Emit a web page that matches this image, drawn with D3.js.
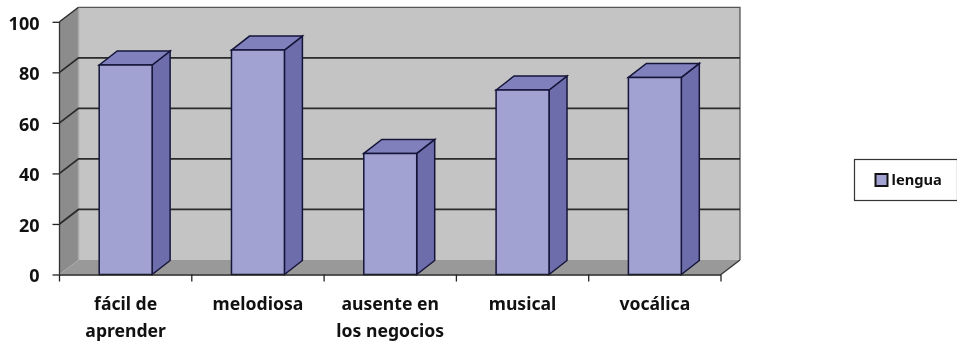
<!DOCTYPE html>
<html><head><meta charset="utf-8">
<script src="https://cdn.jsdelivr.net/npm/d3@7"></script>
<style>html,body{margin:0;padding:0;background:#fff}svg{display:block;filter:blur(.4px)}text{font-family:"Noto Sans",sans-serif;font-weight:700;fill:#111}</style>
</head><body><svg id="c" width="957" height="341"></svg>
<script>
const categories=[["fácil de","aprender"],["melodiosa"],["ausente en","los negocios"],["musical"],["vocálica"]];
const values=[82.9,88.8,47.9,73,78];
const yTicks=[0,20,40,60,80,100];
const legendLabel="lengua";
const svg=d3.select("#c");
const dx=19,dy=-14.5;
const x=d3.scaleBand().domain(d3.range(categories.length)).range([59.5,721]).paddingInner(0.6).paddingOuter(0.3);
const y=d3.scaleLinear().domain([0,100]).range([274.5,21.8]);
const poly=(pts,fill,stroke,sw)=>svg.append("polygon").attr("points",pts.map(p=>p.join(",")).join(" ")).attr("fill",fill).attr("stroke",stroke||"none").attr("stroke-width",sw||0);
const x0=x.range()[0],x1=x.range()[1],y0=y(0),yT=y(100);
// walls
poly([[x0+dx,yT+dy],[x1+dx,yT+dy],[x1+dx,y0+dy],[x0+dx,y0+dy]],"#c4c4c4");
poly([[x0,yT],[x0+dx,yT+dy],[x0+dx,y0+dy],[x0,y0]],"#8c8c8c");
poly([[x0,y0],[x0+dx,y0+dy],[x1+dx,y0+dy],[x1,y0]],"#999999");
svg.append("path").attr("d",`M${x0+dx},${yT+dy}H${x1+dx}V${y0+dy}`).attr("fill","none").attr("stroke","#555").attr("stroke-width",1.3);
svg.append("line").attr("x1",x0+dx).attr("x2",x0+dx).attr("y1",yT+dy).attr("y2",y0+dy).attr("stroke","#aaa").attr("stroke-width",1.5);
// gridlines
yTicks.filter(t=>t>0&&t<100).forEach(t=>{
  const Y=y(t);
  svg.append("path").attr("d",`M${x0},${Y}L${x0+dx},${Y+dy}H${x1+dx}`).attr("fill","none").attr("stroke","#2a2a2a").attr("stroke-width",1.7);
});
svg.append("line").attr("x1",x0).attr("y1",yT).attr("x2",x0+dx).attr("y2",yT+dy).attr("stroke","#2a2a2a").attr("stroke-width",1.4);
svg.append("line").attr("x1",x1).attr("y1",y0).attr("x2",x1+dx).attr("y2",y0+dy).attr("stroke","#333").attr("stroke-width",1.3);
svg.append("line").attr("x1",x0).attr("y1",yT).attr("x2",x0).attr("y2",y0).attr("stroke","#333").attr("stroke-width",1.3);
// bars
values.forEach((v,i)=>{
  const l=x(i),r=l+x.bandwidth(),t=y(v),b=y(0),ddx=18,ddy=-14;
  poly([[r,t],[r+ddx,t+ddy],[r+ddx,b+ddy],[r,b]],"#6d6dab","#15153a",1.5);
  poly([[l,t],[l+ddx,t+ddy],[r+ddx,t+ddy],[r,t]],"#8080bd","#15153a",1.5);
  poly([[l,t],[r,t],[r,b],[l,b]],"#a2a2d2","#15153a",1.5);
});
// axes
const yAxis=d3.axisLeft(y).tickValues(yTicks).tickSize(7).tickPadding(13);
const gy=svg.append("g").attr("transform",`translate(${x0},0)`).call(yAxis);
gy.select(".domain").remove();
gy.selectAll("line").attr("stroke","#222").attr("stroke-width",1.3);
gy.selectAll("text").style("font-size","18px").attr("transform","translate(0,1.5)").attr("fill","#111");
const xs=d3.range(categories.length+1).map(i=>x0+i*x.step());
svg.append("line").attr("x1",x0).attr("x2",x1).attr("y1",y0+.5).attr("y2",y0+.5).attr("stroke","#222").attr("stroke-width",1.5);
xs.forEach(X=>svg.append("line").attr("x1",X).attr("x2",X).attr("y1",y0).attr("y2",y0+7).attr("stroke","#222").attr("stroke-width",1.3));
categories.forEach((lines,i)=>{
  lines.forEach((s,j)=>svg.append("text").attr("x",x(i)+x.bandwidth()/2).attr("y",309.5+j*27).attr("text-anchor","middle").style("font-size","17.6px").text(s));
});
// legend
svg.append("rect").attr("x",854.5).attr("y",159.5).attr("width",103).attr("height",41).attr("fill","#fff").attr("stroke","#333").attr("stroke-width",1.2);
svg.append("rect").attr("x",875.5).attr("y",174).attr("width",12).attr("height",12).attr("fill","#a2a2d2").attr("stroke","#111").attr("stroke-width",2);
svg.append("text").attr("x",891.5).attr("y",184.5).style("font-size","14.7px").text(legendLabel);
</script></body></html>
